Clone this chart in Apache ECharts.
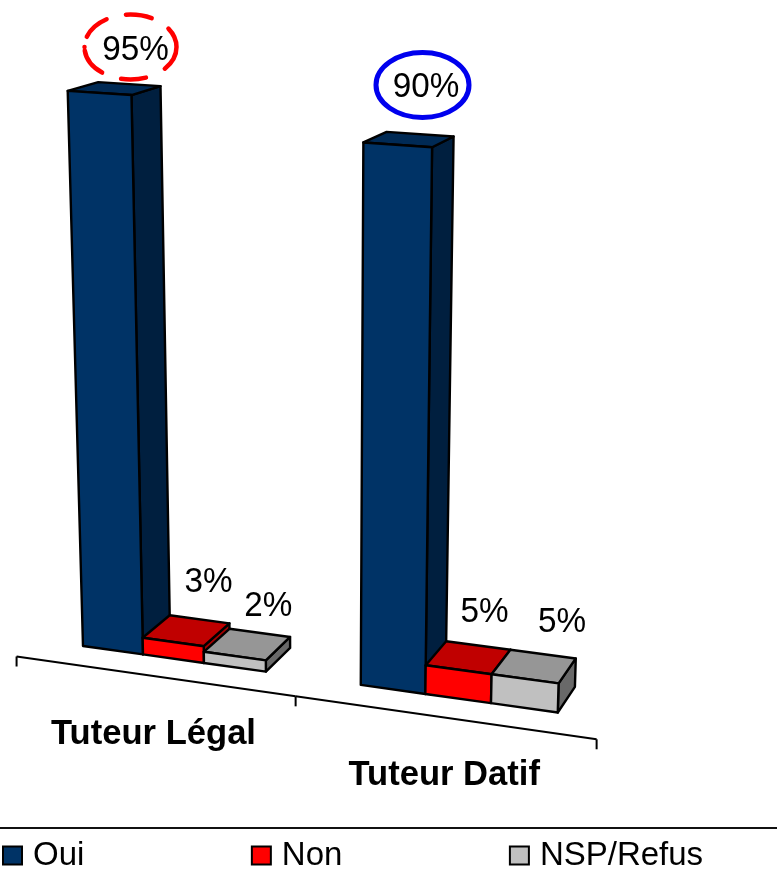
<!DOCTYPE html>
<html><head><meta charset="utf-8">
<style>html,body{margin:0;padding:0;background:#fff}#c{width:777px;height:877px}</style>
<script src="https://cdn.jsdelivr.net/npm/echarts@6/dist/echarts.min.js"></script>
</head><body><div id="c"></div>
<script>
// ---- data ----
const categories = ['Tuteur Légal', 'Tuteur Datif'];
const seriesNames = ['Oui', 'Non', 'NSP/Refus'];
const ouiValues = [95, 90];
const nonValues = [3, 5];
const nspValues = [2, 5];

// ---- styles ----
const faceColors = [
  { front: '#003366', top: '#002a55', side: '#001f3f' },
  { front: '#ff0000', top: '#c00000', side: '#a50000' },
  { front: '#c0c0c0', top: '#969696', side: '#696969' }
];
const font = '"Liberation Sans", Arial, sans-serif';
const labelNudge = [[[21, -38], [17, -52]], [[22, -48], [16, -45]], [[21, -38], [28, -44]]];

// ---- layout: hidden cartesian grid, 9 bar-widths wide, then a camera projection ----
const grid = { left: 17, top: 100, width: 579, height: 500 };
const slotsPerCategory = 4.5, axisDepth = -0.72;
const cam = {
  ox: 83, oy: 646,
  hx: -7365, hy: -397, lh: -0.00799,   // horizontal vanishing point
  vx: 320, vy: 9250, lv: -0.000638,    // vertical vanishing point
  dx: 1187, dy: -230, ld: 0.02634      // depth vanishing point
};
function project(X, V, Z) {
  const a = cam.lh * X, b = cam.lv * V, c = cam.ld * Z, w = 1 + a + b + c;
  return [(cam.ox + a * cam.hx + b * cam.vx + c * cam.dx) / w,
          (cam.oy + a * cam.hy + b * cam.vy + c * cam.dy) / w];
}
// grid pixel -> model (bar-width slot, value)
const slotPx = grid.width / (categories.length * slotsPerCategory);
const modelX = px => (px - grid.left) / slotPx - 0.75;
const modelV = py => (grid.top + grid.height - py) / grid.height * 100;

function poly(points, fill) {
  return { type: 'polygon', shape: { points },
    style: { fill, stroke: '#000', lineWidth: 2.4, lineJoin: 'round' } };
}
function barRenderer(s) {
  return function (params, api) {
    const cat = api.value(0), val = api.value(1);
    const pt = api.coord([cat, val]);
    const X0 = modelX(pt[0]) + (s - 1) - 0.5, X1 = X0 + 1, V = modelV(pt[1]);
    const col = faceColors[s];
    const nudge = labelNudge[s][cat];
    const c = project((X0 + X1) / 2, V, 0.5);
    return { type: 'group', children: [
      poly([project(X1, 0, 0), project(X1, 0, 1), project(X1, V, 1), project(X1, V, 0)], col.side),
      poly([project(X0, V, 0), project(X1, V, 0), project(X1, V, 1), project(X0, V, 1)], col.top),
      poly([project(X0, 0, 0), project(X1, 0, 0), project(X1, V, 0), project(X0, V, 0)], col.front),
      { type: 'text', z2: 10, x: c[0] + nudge[0], y: c[1] + nudge[1], scaleX: 0.95,
        style: { text: val + '%', x: 0, y: 0,
        font: '35px ' + font, fill: '#000', align: 'center', verticalAlign: 'middle' } }
    ] };
  };
}
function axisRenderer(params, api) {
  const cat = api.value(0);
  const pt = api.coord([cat, 0]);
  const Xc = modelX(pt[0]);
  const Xa = Xc - slotsPerCategory / 2, Xb = Xc + slotsPerCategory / 2;
  const a = project(Xa, 0, axisDepth), b = project(Xb, 0, axisDepth), m = project(Xc, 0, axisDepth);
  const ln = (p, q) => ({ type: 'line', shape: { x1: p[0], y1: p[1], x2: q[0], y2: q[1] },
    style: { stroke: '#000', lineWidth: 2 } });
  const kids = [ln(a, b), ln([b[0], b[1]], [b[0], b[1] + 10])];
  if (cat === 0) kids.push(ln([a[0], a[1]], [a[0], a[1] + 10]));
  kids.push({ type: 'text', style: { text: categories[cat], x: m[0] + cat * 1, y: m[1] + 58.5,
    font: 'bold 34.6px ' + font, fill: '#000', align: 'center', verticalAlign: 'middle' } });
  return { type: 'group', children: kids };
}
const allValues = [ouiValues, nonValues, nspValues];
const chart = echarts.init(document.getElementById('c'), null, { renderer: 'canvas' });
chart.setOption({
  animation: false,
  backgroundColor: '#fff',
  grid: grid,
  xAxis: { type: 'category', data: categories, show: false },
  yAxis: { type: 'value', min: 0, max: 100, show: false },
  legend: {
    left: 2, top: 839, padding: 0, icon: 'rect', itemWidth: 19, itemHeight: 18, itemGap: 166.5,
    selectedMode: false,
    data: seriesNames.map((n, i) => ({ name: n,
      itemStyle: { color: faceColors[i].front, borderColor: '#000', borderWidth: 2 } })),
    textStyle: { fontFamily: font, fontSize: 33, color: '#000', padding: [0, 0, 0, 6] }
  },
  graphic: [
    { type: 'line', shape: { x1: 0, y1: 828, x2: 777, y2: 828 }, style: { stroke: '#111', lineWidth: 2 } },
    { type: 'ellipse', shape: { cx: 130.5, cy: 47, rx: 46, ry: 32.5 },
      style: { fill: 'none', stroke: '#ff0000', lineWidth: 4.5, lineCap: 'round',
        lineDash: [0.01, 10.5, 27, 20, 26, 20, 46, 21, 25, 20, 29, 10.5] } },
    { type: 'ellipse', shape: { cx: 422.5, cy: 85, rx: 46.5, ry: 32.5 },
      style: { fill: 'none', stroke: '#0000ee', lineWidth: 5 } }
  ],
  series: [
    { type: 'custom', name: 'axis', renderItem: axisRenderer, silent: true,
      data: categories.map((c, i) => [i, 0]), encode: { x: 0, y: 1 } }
  ].concat(seriesNames.map((n, s) => ({
    type: 'custom', name: n, renderItem: barRenderer(s), silent: true,
    itemStyle: { color: faceColors[s].front },
    data: allValues[s].map((v, i) => [i, v]), encode: { x: 0, y: 1 }
  })))
});
</script></body></html>
